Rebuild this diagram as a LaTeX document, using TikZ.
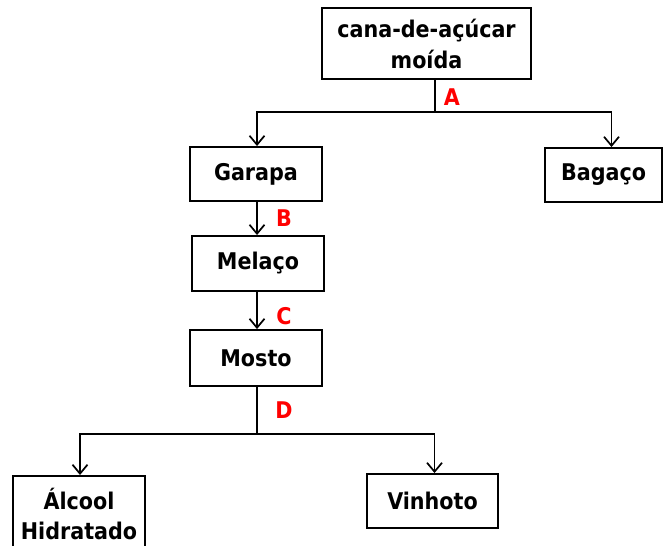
\documentclass[tikz,border=0pt]{standalone}
\usepackage{fontspec}
\setmainfont{DejaVu Sans Condensed}
\usetikzlibrary{arrows.meta,calc}
\begin{document}
\begin{tikzpicture}[x=1pt,y=-1pt,
  box/.style={draw=black,line width=1.9pt,fill=white,align=center,inner sep=0pt,font=\fontsize{23}{31}\selectfont\bfseries},
  lbl/.style={text=red,font=\fontsize{23}{28}\selectfont\bfseries,inner sep=0pt},
  conn/.style={line width=1.7pt},
  arr/.style={conn,-{Straight Barb[length=9pt,width=15pt,line width=1.7pt]}}]
\useasboundingbox (0,0) rectangle (665,546);
\node[box,minimum width=209pt,minimum height=71pt] (cana) at (426.5,43.5) {cana-de-açúcar\\moída};
\node[box,minimum width=132pt,minimum height=54pt] (garapa) at (256,174) {Garapa};
\node[box,minimum width=117pt,minimum height=54pt] (bagaco) at (603.5,175) {Bagaço};
\node[box,minimum width=132pt,minimum height=55pt] (melaco) at (258,263.5) {Melaço};
\node[box,minimum width=132pt,minimum height=56pt] (mosto) at (256,358) {Mosto};
\node[box,minimum width=132pt,minimum height=96pt,anchor=north] (alcool) at (79,475) {};
\node[align=center,font=\fontsize{23}{30}\selectfont\bfseries,inner sep=0pt] (alcooltxt) at (79,514) {Álcool\\Hidratado};
\node[box,minimum width=131pt,minimum height=54pt] (vinhoto) at (432.5,501) {Vinhoto};
\coordinate (j1) at (435,112);
\coordinate (j2) at (257,434);
\draw[conn] (cana.south -| j1) -- (j1);
\draw[arr] (j1) -| ([xshift=1pt]garapa.north);
\draw[arr] (j1) -| ([xshift=8pt]bagaco.north);
\draw[arr] ([xshift=1pt]garapa.south) -- ([xshift=-1pt]melaco.north);
\draw[arr] ([xshift=-1pt]melaco.south) -- ([xshift=1pt]mosto.north);
\draw[conn] ([xshift=1pt]mosto.south) -- (j2);
\draw[arr] (j2) -| ([xshift=1pt]alcool.north);
\draw[arr] (j2) -| ([xshift=2pt]vinhoto.north);
\node[lbl] (la) at (452,97) {A};
\node[lbl] (lb) at (284,218) {B};
\node[lbl] (lc) at (284,316) {C};
\node[lbl] (ld) at (284,410) {D};
\end{tikzpicture}
\end{document}
